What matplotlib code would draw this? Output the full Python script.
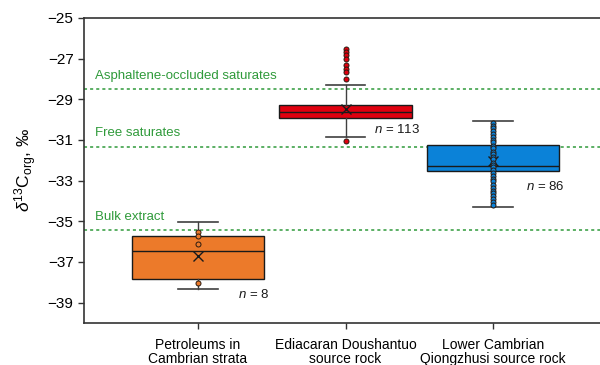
import matplotlib
matplotlib.use("Agg")
import matplotlib.pyplot as plt

plt.rcParams['font.family'] = ['Liberation Sans', 'DejaVu Sans']
plt.rcParams['mathtext.fontset'] = 'custom'
plt.rcParams['mathtext.rm'] = 'Liberation Sans'
plt.rcParams['mathtext.it'] = 'Liberation Sans:italic'

groups = ["Petroleums in\nCambrian strata", "Ediacaran Doushantuo\nsource rock",
          "Lower Cambrian\nQiongzhusi source rock"]
counts = [8, 113, 86]
colors = ["#ec7a2a", "#e0000f", "#0b82d8"]

# whisker low, Q1, median, Q3, whisker high, mean
box_low = [-38.35, -30.87, -34.32]
box_q1 = [-37.86, -29.94, -32.55]
box_med = [-36.46, -29.65, -32.30]
box_q3 = [-35.70, -29.29, -31.23]
box_high = [-35.05, -28.32, -30.07]
box_mean = [-36.72, -29.49, -32.04]

pts_petroleum = [-35.54, -35.70, -36.12, -38.02]
pts_ediacaran = [-26.51, -26.67, -26.84, -27.00, -27.33, -27.49, -27.65, -27.98, -31.07]
pts_qiongzhusi = [-30.17, -30.30, -30.43, -30.56, -30.71, -30.84, -30.98, -31.11, -31.28, -31.41,
                  -31.57, -31.70, -31.85, -31.96, -32.11, -32.22, -32.35, -32.50, -32.63, -32.76,
                  -32.90, -33.03, -33.20, -33.36, -33.49, -33.62, -33.77, -33.91, -34.07, -34.22]

ref_names = ["Asphaltene-occluded saturates", "Free saturates", "Bulk extract"]
ref_values = [-28.51, -31.33, -35.45]

fig = plt.figure(figsize=(6, 3.65), dpi=100)
ax = fig.add_axes([0.14, 0.115, 0.86, 0.836])

stats = []
for i in range(3):
    stats.append({"whislo": box_low[i], "q1": box_q1[i], "med": box_med[i],
                  "q3": box_q3[i], "whishi": box_high[i], "mean": box_mean[i], "fliers": []})

pos = [1, 2, 3]
bp = ax.bxp(stats, positions=pos, widths=0.9, patch_artist=True, showmeans=True,
            showfliers=False,
            boxprops=dict(edgecolor="#1a1a1a", linewidth=1.0),
            medianprops=dict(color="#1a1a1a", linewidth=1.0),
            whiskerprops=dict(color="#404040", linewidth=1.0),
            capprops=dict(color="#404040", linewidth=1.2),
            meanprops=dict(marker="x", markeredgecolor="#1a1a1a", markersize=7,
                           markeredgewidth=1.0),
            capwidths=0.27)
for patch, c in zip(bp["boxes"], colors):
    patch.set_facecolor(c)
    patch.set_zorder(2)

for p, vals, c in zip(pos, [pts_petroleum, pts_ediacaran, pts_qiongzhusi], colors):
    ax.scatter([p] * len(vals), vals, s=13, color=c, edgecolors="#2a1a10", linewidths=0.7, zorder=4)

for name, v in zip(ref_names, ref_values):
    ax.axhline(v, color="#2f9a3a", linestyle=(0, (2, 2)), linewidth=1.1, zorder=1)
    ax.text(0.30, v + 0.36, name, color="#2f9a3a", fontsize=9.5, va="bottom", ha="left")

n_xy = [(1.27, -38.6), (2.19, -30.5), (3.22, -33.3)]
for (x, y), n in zip(n_xy, counts):
    ax.text(x, y, f"$n$ = {n}", fontsize=9.5, color="#1a1a1a", va="center", ha="left")

ax.set_xlim(0.227, 3.725)
ax.set_ylim(-40, -25)
ax.set_yticks([-25, -27, -29, -31, -33, -35, -37, -39])
ax.set_yticklabels(["\u221225", "\u221227", "\u221229", "\u221231", "\u221233", "\u221235",
                    "\u221237", "\u221239"])
ax.set_xticks(pos)
ax.set_xticklabels(groups, fontsize=10, linespacing=1.0)
ax.tick_params(axis="y", labelsize=11, direction="out", length=4, width=1, color="#333333")
ax.tick_params(axis="x", direction="out", length=4, width=1, color="#333333", pad=7)
ax.set_ylabel("$\\delta^{13}$C$_{\\rm org}$, \u2030", fontsize=12.5, labelpad=6)

for side in ["left", "bottom", "top"]:
    ax.spines[side].set_color("#333333")
    ax.spines[side].set_linewidth(1.2)
ax.spines["right"].set_visible(False)

plt.savefig("out.png", dpi=100)
